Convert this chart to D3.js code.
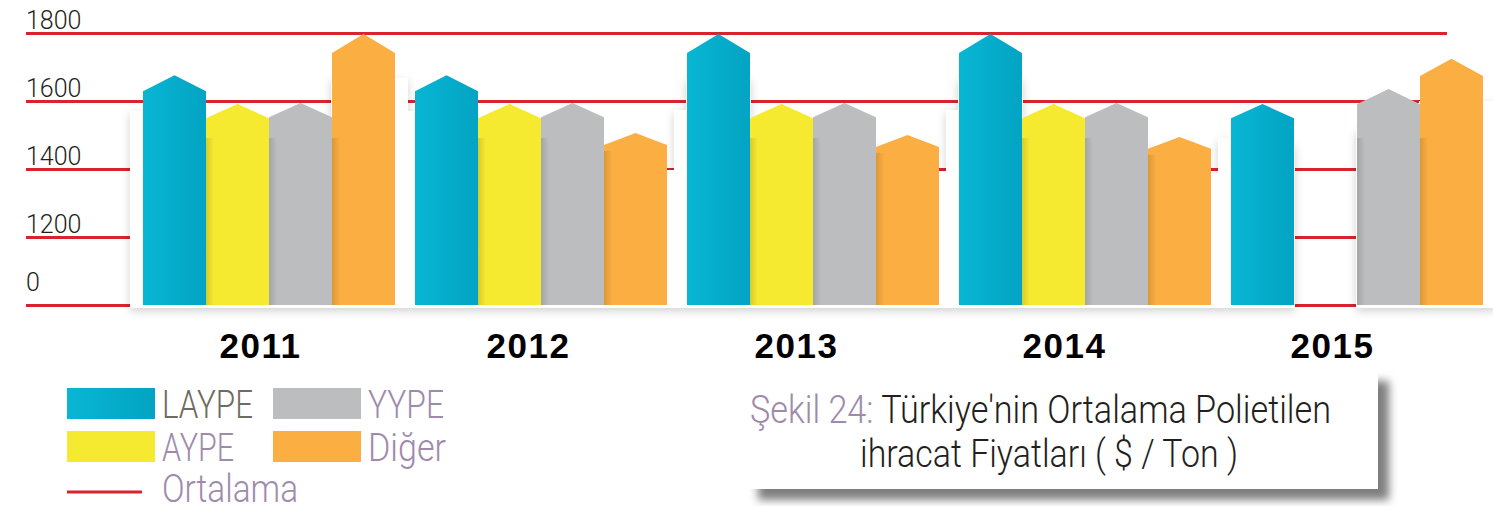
<!DOCTYPE html>
<html>
<head>
<meta charset="utf-8">
<script src="https://cdn.jsdelivr.net/npm/d3@7"></script>
<style>
  html, body { margin: 0; padding: 0; background: #fff; }
  svg { display: block; }
</style>
</head>
<body>
<svg id="chart" width="1493" height="506"></svg>
<script>
// data (value = tip of each arrow bar)
const years = ["2011", "2012", "2013", "2014", "2015"];
const series = ["LAYPE", "AYPE", "YYPE", "Diğer"];
const laype = [1676, 1676, 1797, 1797, 1591];
const aype = [1591, 1591, 1591, 1591, null];
const yype = [1594, 1594, 1594, 1594, 1635];
const diger = [1797, 1506, 1500, 1494, 1724];
const tickValues = [1000, 1200, 1400, 1600, 1800];
const tickLabels = ["0", "1200", "1400", "1600", "1800"];
const averageLabel = "Ortalama";
const titleLead = "Şekil 24:";
const titleRest = " Türkiye'nin Ortalama Polietilen";
const titleLine2 = "ihracat Fiyatları ( $ / Ton )";

const values = [laype, aype, yype, diger];
const colors = { "LAYPE": "url(#blueGrad)", "AYPE": "#f6ea31", "YYPE": "#bcbdbf", "Diğer": "#fbae41" };
const red = "#d7242e";
const lavender = "#9f8aab";

const svg = d3.select("#chart");
const defs = svg.append("defs");

const blue = defs.append("linearGradient").attr("id", "blueGrad").attr("x1", 0).attr("x2", 1).attr("y1", 0).attr("y2", 0);
blue.append("stop").attr("offset", "0%").attr("stop-color", "#08b6d3");
blue.append("stop").attr("offset", "100%").attr("stop-color", "#03a3c3");

const edge = defs.append("linearGradient").attr("id", "edgeShade").attr("x1", 0).attr("x2", 1).attr("y1", 0).attr("y2", 0);
edge.append("stop").attr("offset", "0%").attr("stop-color", "#000").attr("stop-opacity", 0.13);
edge.append("stop").attr("offset", "100%").attr("stop-color", "#000").attr("stop-opacity", 0);

const soft = defs.append("filter").attr("id", "soft").attr("x", "-20%").attr("y", "-20%").attr("width", "140%").attr("height", "140%");
soft.append("feDropShadow").attr("dx", 0).attr("dy", 3).attr("stdDeviation", 4)
    .attr("flood-color", "#000").attr("flood-opacity", 0.18);

const boxShadow = defs.append("filter").attr("id", "boxShadow").attr("x", "-10%").attr("y", "-20%").attr("width", "130%").attr("height", "150%");
boxShadow.append("feDropShadow").attr("dx", 11).attr("dy", 11).attr("stdDeviation", 4)
    .attr("flood-color", "#000").attr("flood-opacity", 0.5);

// scales
const base = 305;
const y = d3.scaleLinear().domain([1000, 1800]).range([base, 33]);
const x0 = d3.scaleBand().domain(years).range([143, 1483]).paddingInner(20 / 272).paddingOuter(0);
const x1 = d3.scaleBand().domain(series).range([0, x0.bandwidth()]);
const xLabel = d3.scalePoint().domain(years).range([260, 1332]);

// gridlines + y labels
const yAxis = svg.append("g")
    .attr("transform", "translate(26,0)")
    .call(d3.axisRight(y)
        .tickValues(tickValues)
        .tickSize(1421)
        .tickFormat(function(d, i) { return tickLabels[i]; }));
yAxis.select(".domain").remove();
yAxis.selectAll(".tick line").attr("stroke", red).attr("stroke-width", 3);
yAxis.selectAll(".tick text")
    .attr("x", 0)
    .attr("dy", function(d) { return d === 1000 ? -15 : -5; })
    .attr("text-anchor", "start")
    .attr("fill", "#231f20")
    .style("font-family", "Roboto")
    .style("font-weight", 300)
    .style("font-size", "25px");

// flatten bars
const bars = [];
years.forEach(function(yr, j) {
    const present = series.filter(function(s, i) { return values[i][j] != null; });
    series.forEach(function(s, i) {
        const v = values[i][j];
        if (v == null) return;
        const top = y(v);
        bars.push({
            year: yr, key: s, value: v,
            x: x0(yr) + x1(s), w: x1.bandwidth(),
            top: top, shoulder: top + 0.07 * (base - top),
            first: s === present[0], last: s === present[present.length - 1]
        });
    });
});

// white backing with soft shadow (hides the lower gridlines like the original)
const back = svg.append("g").attr("filter", "url(#soft)");
bars.forEach(function(d) {
    back.append("rect")
        .attr("x", d.x - 1)
        .attr("width", d.w + 2 + (d.last ? 12 : 0))
        .attr("y", d.shoulder + 25)
        .attr("height", base + 3 - d.shoulder - 25)
        .attr("fill", "#fff");
    if (d.first) {
        const t = Math.max(d.shoulder + 20, 110);
        back.append("rect")
            .attr("x", d.x - 13).attr("width", 14)
            .attr("y", t).attr("height", base + 3 - t)
            .attr("fill", "#fff");
    }
});

// arrow bars
svg.append("g").selectAll("path")
    .data(bars)
    .join("path")
    .attr("d", function(d) {
        return "M" + d.x + "," + base +
            "V" + d.shoulder +
            "L" + (d.x + d.w / 2) + "," + d.top +
            "L" + (d.x + d.w) + "," + d.shoulder +
            "V" + base + "Z";
    })
    .attr("fill", function(d) { return colors[d.key]; });

// left edge shading on the stacked-looking bars
svg.append("g").selectAll("rect")
    .data(bars.filter(function(d) { return d.key !== "LAYPE"; }))
    .join("rect")
    .attr("x", function(d) { return d.x; })
    .attr("width", 8)
    .attr("y", function(d) { return Math.max(d.shoulder + 6, 138); })
    .attr("height", function(d) { return base - Math.max(d.shoulder + 6, 138); })
    .attr("fill", "url(#edgeShade)");

// year labels
const xAxis = svg.append("g")
    .attr("transform", "translate(0,358)")
    .call(d3.axisBottom(xLabel).tickSize(0));
xAxis.select(".domain").remove();
xAxis.selectAll(".tick text")
    .attr("y", 0).attr("dy", 0)
    .attr("fill", "#000")
    .style("font-family", "'Liberation Sans', Arial, sans-serif")
    .style("font-weight", "bold")
    .style("font-size", "35px")
    .style("letter-spacing", "1.5px");

// legend
const legendWidths = { "LAYPE": 91, "AYPE": 72, "YYPE": 76, "Diğer": 78 };
const legend = svg.append("g").style("font-family", "Roboto").style("font-weight", 300).style("font-size", "39px");
series.forEach(function(s, i) {
    const col = i < 2 ? 0 : 1;
    const row = i % 2;
    const lx = 67 + col * 206;
    const ly = 388 + row * 43;
    legend.append("rect").attr("x", lx).attr("y", ly).attr("width", 88).attr("height", 31).attr("fill", colors[s]);
    legend.append("text")
        .attr("x", lx + 95).attr("y", ly + 30)
        .attr("textLength", legendWidths[s]).attr("lengthAdjust", "spacingAndGlyphs")
        .attr("fill", s === "LAYPE" ? "#6e6b60" : lavender)
        .text(s);
});
legend.append("line").attr("x1", 67).attr("x2", 142).attr("y1", 492).attr("y2", 492)
    .attr("stroke", red).attr("stroke-width", 3);
legend.append("text")
    .attr("x", 162).attr("y", 502)
    .attr("textLength", 136).attr("lengthAdjust", "spacingAndGlyphs")
    .attr("fill", lavender)
    .text(averageLabel);

// caption box
svg.append("rect")
    .attr("x", 747).attr("y", 370).attr("width", 631).attr("height", 119)
    .attr("fill", "#fff").attr("filter", "url(#boxShadow)");
const cap = svg.append("g").style("font-family", "Roboto").style("font-weight", 300).style("font-size", "39px");
const l1 = cap.append("text").attr("x", 750).attr("y", 423)
    .attr("textLength", 581).attr("lengthAdjust", "spacingAndGlyphs");
l1.append("tspan").attr("fill", lavender).text(titleLead);
l1.append("tspan").attr("fill", "#231f20").text(titleRest);
cap.append("text").attr("x", 860).attr("y", 467)
    .attr("textLength", 378).attr("lengthAdjust", "spacingAndGlyphs")
    .attr("fill", "#231f20")
    .text(titleLine2);
</script>
</body>
</html>
